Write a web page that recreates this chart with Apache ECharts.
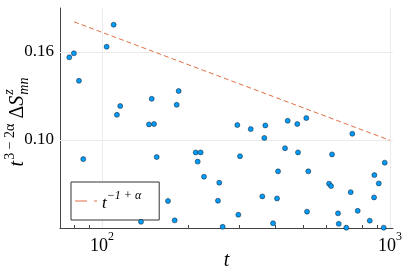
<!DOCTYPE html>
<html><head><meta charset="utf-8">
<script src="https://cdn.jsdelivr.net/npm/echarts@6/dist/echarts.min.js"></script>
<style>html,body{margin:0;padding:0;background:#fff}#c{width:407px;height:271px}</style>
</head><body><div id="c"></div>
<script>
// ---- data ----
const tValues = [77.0, 79.9, 83.2, 86.1, 103.8, 109.8, 112.7, 115.7, 136.6, 145.6,
  148.8, 151.6, 154.9, 169.5, 178.8, 181.7, 184.6, 211.5, 214.9, 220.1,
  226.0, 252.7, 255.4, 262.4, 295.0, 297.4, 301.4, 328.4, 360.3, 366.1,
  369.0, 392.5, 405.2, 408.5, 431.9, 441.3, 476.5, 479.2, 512.1, 515.0,
  520.3, 614.1, 624.0, 629.0, 659.9, 663.6, 705.1, 730.3, 739.7, 772.3,
  850.4, 880.1, 882.3, 913.9, 950.8, 958.5];
const sValues = [0.1555, 0.1589, 0.1372, 0.0903, 0.1646, 0.1851, 0.1144, 0.1199, 0.0646, 0.1087,
  0.1246, 0.1089, 0.0913, 0.0722, 0.0651, 0.1207, 0.1299, 0.0936, 0.0891, 0.0936,
  0.0822, 0.0723, 0.0796, 0.0629, 0.1083, 0.0671, 0.0917, 0.1060, 0.0740, 0.1011,
  0.1081, 0.0641, 0.0732, 0.0846, 0.0957, 0.1108, 0.1089, 0.0936, 0.1124, 0.0682,
  0.0846, 0.0792, 0.0782, 0.0926, 0.0676, 0.0639, 0.0626, 0.0757, 0.1034, 0.0685,
  0.0650, 0.0736, 0.0829, 0.0793, 0.0626, 0.0886];
const refLineT = [80, 1000];
const refLineS = [0.188, 0.0998];
const xMajorTicks = [100, 1000];
const xMinorTicks = [80, 90, 100, 200, 300, 400, 500, 600, 700, 800, 900, 1000];
const yTicks = [0.10, 0.16];
const xRange = [71.5, 1024];
const yRange = [0.0625, 0.2024];
const legendBase = 't';
const legendSup = '\u22121 + \u03b1';
const xName = 't';

// ---- rendering ----
const FONT = 'Liberation Serif';
const chart = echarts.init(document.getElementById('c'), null, {renderer: 'canvas'});

const ctx = document.createElement('canvas').getContext('2d');
function tw(txt, size, italic) {
  ctx.font = (italic ? 'italic ' : '') + size + 'px "' + FONT + '"';
  return ctx.measureText(txt).width;
}
// y-axis title pieces: t^{3-2α} ΔS^z_{mn}
const big = 20, small = 14;
const pieces = [];
let cx = 0;
function add(text, size, italic, dy, advance) {
  pieces.push({text, size, italic, x: cx, dy});
  if (advance !== false) cx += tw(text, size, italic);
}
add('t', big, true, 0);
cx += 1;
add('3 \u2212 2\u03b1', small, false, -8);
cx += 5;
add('\u0394', big, false, 0);
add('S', big, true, 0);
cx += 1;
add('z', small, true, -9, false);
add('mn', small, true, 6);
const W = cx;
const yTitle = {
  type: 'group', x: 18, y: 122, rotation: Math.PI / 2,
  children: pieces.map(p => ({
    type: 'text', x: p.x - W / 2, y: p.dy,
    style: {text: p.text, fontSize: p.size, fontFamily: FONT,
      fontStyle: p.italic ? 'italic' : 'normal', fill: '#000',
      align: 'left', verticalAlign: 'middle'}
  }))
};

const axisColor = '#444';
const gridLineStyle = {color: '#ebebeb', width: 1, type: 'solid'};
// legend sample: long dash, gap, short dash (same dash style as the plotted line)
const legendIcon = 'path://M0 0H12V1H0Z M19 0H22V1H19Z';

const option = {
  animation: false,
  backgroundColor: '#fff',
  grid: {left: 60, right: 14, top: 8, bottom: 43, containLabel: false, outerBoundsMode: 'none'},
  xAxis: {
    type: 'log', logBase: 10, min: xRange[0], max: xRange[1],
    name: xName, nameLocation: 'middle', nameGap: 23, nameMoveOverlap: false,
    nameTextStyle: {fontFamily: FONT, fontStyle: 'italic', fontSize: 20, color: '#000'},
    axisLine: {show: true, lineStyle: {color: axisColor, width: 1}},
    axisTick: {show: true, inside: true, length: 3, customValues: xMinorTicks, lineStyle: {color: axisColor}},
    splitLine: {show: false},
    axisLabel: {
      customValues: xMajorTicks, margin: 3, color: '#000',
      formatter: v => '{b|10}{s|' + Math.round(Math.log10(v)) + '}',
      rich: {
        b: {fontFamily: FONT, fontSize: 18, lineHeight: 24, verticalAlign: 'bottom', color: '#000'},
        s: {fontFamily: FONT, fontSize: 12, lineHeight: 12, verticalAlign: 'top', color: '#000'}
      }
    }
  },
  yAxis: {
    type: 'log', logBase: 10, min: yRange[0], max: yRange[1],
    axisLine: {show: true, lineStyle: {color: axisColor, width: 1}},
    axisTick: {show: true, inside: true, length: 4, customValues: yTicks, lineStyle: {color: axisColor}},
    splitLine: {show: false},
    axisLabel: {
      customValues: yTicks, margin: 6, color: '#000',
      fontFamily: FONT, fontSize: 17,
      formatter: v => Number(v).toFixed(2)
    }
  },
  legend: {
    data: [{name: 'ref', icon: legendIcon, itemStyle: {color: '#E26F46'}}],
    left: 71, top: 182, orient: 'vertical',
    padding: [8, 18, 8, 4], itemWidth: 22, itemHeight: 1.3,
    backgroundColor: '#fff', borderColor: '#333', borderWidth: 1, borderRadius: 0,
    formatter: () => '{t|' + legendBase + '}{s|' + legendSup + '}',
    textStyle: {
      rich: {
        t: {fontFamily: FONT, fontStyle: 'italic', fontSize: 17, lineHeight: 22, verticalAlign: 'bottom', color: '#000'},
        s: {fontFamily: FONT, fontStyle: 'italic', fontSize: 12, lineHeight: 12, verticalAlign: 'top', color: '#000'}
      }
    }
  },
  graphic: [yTitle],
  series: [
    {
      name: 'ref', type: 'line', symbol: 'none', showSymbol: false, z: 3,
      data: refLineT.map((t, i) => [t, refLineS[i]]),
      lineStyle: {color: '#E26F46', width: 1, type: [5, 3]},
      itemStyle: {color: '#E26F46'},
      markLine: {
        silent: true, z: 1, symbol: ['none', 'none'], label: {show: false},
        lineStyle: gridLineStyle, animation: false,
        data: xMajorTicks.map(v => ({xAxis: v})).concat(yTicks.map(v => ({yAxis: v})))
      }
    },
    {
      name: 'data', type: 'scatter', z: 4, clip: false,
      data: tValues.map((t, i) => [t, sValues[i]]),
      symbolSize: 5,
      itemStyle: {color: '#009AFA', borderColor: '#1a1a1a', borderWidth: 0.5, opacity: 1}
    }
  ]
};
chart.setOption(option);
</script>
</body></html>
